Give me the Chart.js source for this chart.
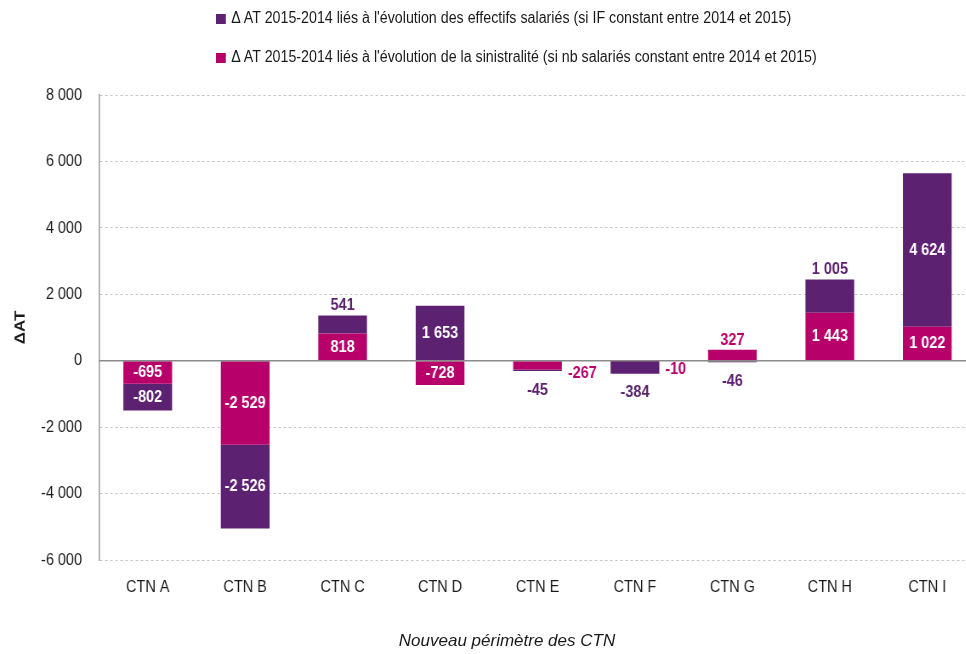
<!DOCTYPE html>
<html lang="fr">
<head>
<meta charset="utf-8">
<script src="https://cdn.jsdelivr.net/npm/chart.js@4.4.1/dist/chart.umd.min.js"></script>
<style>
    html, body { margin: 0; padding: 0; background: #fff; overflow: hidden; }
    body { width: 966px; height: 654px; position: relative; font-family: 'Liberation Sans', Arial, sans-serif; color: #1a1a1a; }
    #wrap { position: absolute; left: 0; top: 0; width: 976px; height: 654px; }
    /* the canvas is drawn wider than shown, so its text comes out condensed like Arial Narrow */
    #myChart { width: 976px; height: 654px; }
    #legend { position: absolute; left: 216px; top: 8px; font-size: 16px; transform: scaleX(0.89); transform-origin: 0 0; }
    #legend .item { height: 20px; line-height: 20px; margin-bottom: 19px; white-space: nowrap; }
    #legend .box { display: inline-block; width: 11px; height: 10px; margin-right: 6px; vertical-align: -1px; }
    #xtitle { position: absolute; left: 0; width: 1014px; top: 631px; text-align: center; font-size: 17px; font-style: italic; }
</style>
</head>
<body>
<div id="wrap"><canvas id="myChart" width="1148" height="654" style="width:976px;height:654px"></canvas></div>
<div id="legend"></div>
<div id="xtitle">Nouveau périmètre des CTN</div>
<script>
    const categories = ['CTN A', 'CTN B', 'CTN C', 'CTN D', 'CTN E', 'CTN F', 'CTN G', 'CTN H', 'CTN I'];

    // effectifs salariés (violet)
    const effectifs = [-802, -2526, 541, 1653, -45, -384, -46, 1005, 4624];
    // sinistralité (magenta)
    const sinistralite = [-695, -2529, 818, -728, -267, -10, 327, 1443, 1022];

    const yTicks = [-6000, -4000, -2000, 0, 2000, 4000, 6000, 8000];

    // where each value label sits: in the bar, above, below or right of it
    const effectifsLabelPos = ['in', 'in', 'top', 'in', 'bottom', 'bottom', 'bottom', 'top', 'in'];
    const sinistraliteLabelPos = ['in', 'in', 'in', 'in', 'right', 'right', 'top', 'in', 'in'];

    const purple = '#5c2170';
    const magenta = '#b8006a';
    const fontFamily = "'Liberation Sans', Arial, sans-serif";
    const squeeze = 976 / 1148;

    function fmt(v) {
        let s = String(Math.abs(v)).replace(/\B(?=(\d{3})+(?!\d))/g, ' ');
        return (v < 0 ? '-' : '') + s;
    }

    const zeroLine = {
        id: 'zeroLine',
        afterDatasetsDraw(chart) {
            const ctx = chart.ctx;
            const y = chart.scales.y.getPixelForValue(0);
            ctx.save();
            ctx.strokeStyle = '#8a8a8a';
            ctx.lineWidth = 1.5;
            ctx.beginPath();
            ctx.moveTo(chart.chartArea.left, y);
            ctx.lineTo(chart.chartArea.right, y);
            ctx.stroke();
            ctx.restore();
        }
    };

    const valueLabels = {
        id: 'valueLabels',
        afterDatasetsDraw(chart) {
            const ctx = chart.ctx;
            ctx.save();
            ctx.font = 'bold 17px ' + fontFamily;
            ctx.textBaseline = 'middle';
            chart.data.datasets.forEach((ds, di) => {
                const meta = chart.getDatasetMeta(di);
                meta.data.forEach((bar, i) => {
                    const pos = ds.labelPos[i];
                    const top = Math.min(bar.y, bar.base);
                    const bottom = Math.max(bar.y, bar.base);
                    let x = bar.x, y = (top + bottom) / 2;
                    ctx.textAlign = 'center';
                    ctx.fillStyle = ds.backgroundColor;
                    if (pos === 'in') {
                        ctx.fillStyle = '#fff';
                    } else if (pos === 'top') {
                        y = top - 10;
                    } else if (pos === 'bottom') {
                        y = bottom + 19;
                    } else if (pos === 'right') {
                        x = bar.x + bar.width / 2 + 7;
                        y = y + 8;
                        ctx.textAlign = 'left';
                    }
                    ctx.fillText(fmt(ds.data[i]), x, y);
                });
            });
            ctx.restore();
        }
    };

    const datasets = [{
        label: "\u0394 AT 2015-2014 liés à l'évolution de la sinistralité (si nb salariés constant entre 2014 et 2015)",
        data: sinistralite,
        backgroundColor: magenta,
        labelPos: sinistraliteLabelPos
    }, {
        label: "\u0394 AT 2015-2014 liés à l'évolution des effectifs salariés (si IF constant entre 2014 et 2015)",
        data: effectifs,
        backgroundColor: purple,
        labelPos: effectifsLabelPos
    }];

    // legend, effectifs first as in the original
    let legend = document.getElementById('legend');
    datasets.slice().reverse().forEach(ds => {
        let row = document.createElement('div');
        row.className = 'item';
        let box = document.createElement('span');
        box.className = 'box';
        box.style.background = ds.backgroundColor;
        row.appendChild(box);
        row.appendChild(document.createTextNode(ds.label));
        legend.appendChild(row);
    });

    let myChart = new Chart(document.getElementById('myChart'), {
        type: 'bar',
        data: {
            labels: categories,
            datasets: datasets
        },
        options: {
            responsive: false,
            animation: false,
            categoryPercentage: 1,
            barPercentage: 0.5,
            layout: { padding: { top: 95, right: 0, bottom: 0, left: 0 } },
            plugins: {
                legend: { display: false },
                tooltip: { enabled: false }
            },
            scales: {
                x: {
                    stacked: true,
                    grid: { display: false },
                    border: { display: false },
                    ticks: {
                        color: '#1a1a1a',
                        padding: 9,
                        font: { family: fontFamily, size: 17 }
                    },
                    afterFit(scale) { scale.height = 94; }
                },
                y: {
                    stacked: true,
                    min: -6000,
                    max: 8000,
                    afterBuildTicks(scale) { scale.ticks = yTicks.map(v => ({ value: v })); },
                    grid: { color: '#c4c4c4', lineWidth: 1, drawTicks: false },
                    border: { display: true, color: '#9a9a9a', width: 1.5, dash: [3, 3] },
                    ticks: {
                        color: '#1a1a1a',
                        padding: 20,
                        font: { family: fontFamily, size: 17 },
                        callback: v => fmt(v)
                    },
                    title: {
                        display: true,
                        text: '\u0394AT',
                        color: '#1a1a1a',
                        font: { family: fontFamily, size: 17, weight: 'bold' },
                        padding: { top: 14, bottom: 0 }
                    },
                    afterFit(scale) { scale.width = 99 / squeeze; }
                }
            }
        },
        plugins: [zeroLine, valueLabels]
    });
</script>
</body>
</html>
